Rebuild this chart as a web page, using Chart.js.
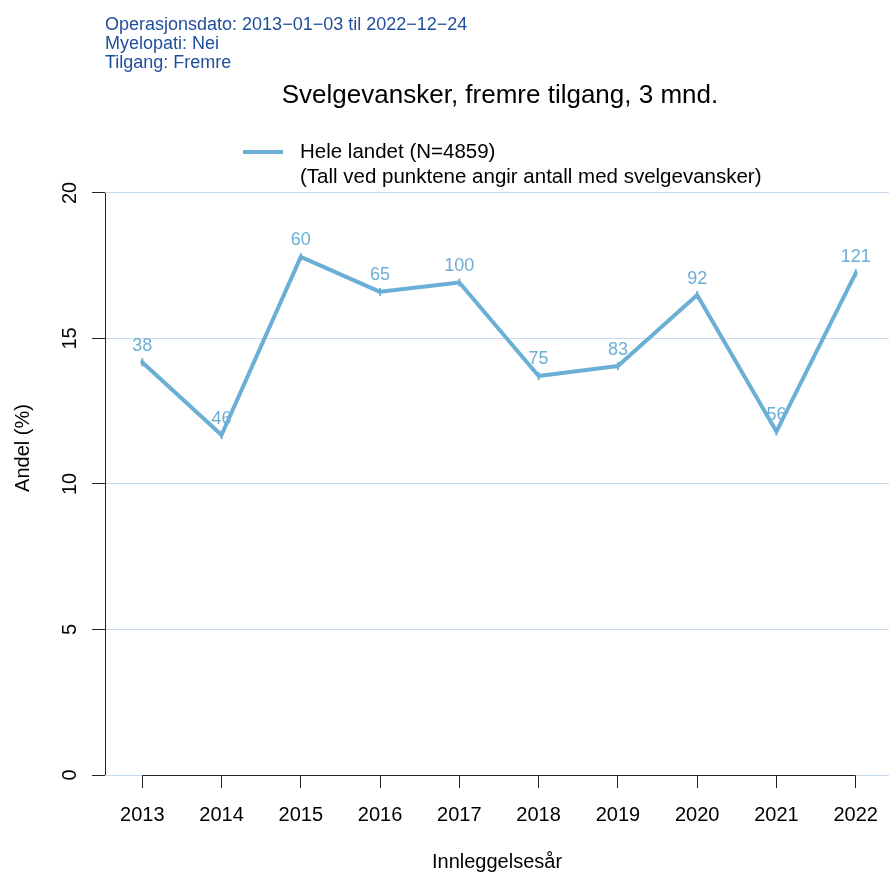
<!DOCTYPE html>
<html>
<head>
<meta charset="utf-8">
<script src="https://cdn.jsdelivr.net/npm/chart.js@4/dist/chart.umd.min.js"></script>
<style>
  html, body { margin: 0; padding: 0; background: #ffffff; }
  #wrap { width: 889px; height: 876px; }
</style>
</head>
<body>
<div id="wrap"><canvas id="c" width="889" height="876"></canvas></div>
<script>
// Share with swallowing difficulties 3 months after anterior-approach surgery, per admission year
const years = [2013, 2014, 2015, 2016, 2017, 2018, 2019, 2020, 2021, 2022];
const andel = [14.18, 11.68, 17.80, 16.60, 16.92, 13.71, 14.05, 16.49, 11.80, 17.24];
const antall = [38, 46, 60, 65, 100, 75, 83, 92, 56, 121];
const yTicks = [0, 5, 10, 15, 20];
const infoLines = [
  'Operasjonsdato: 2013\u221201\u221203 til 2022\u221212\u221224',
  'Myelopati: Nei',
  'Tilgang: Fremre'
];
const mainTitle = 'Svelgevansker, fremre tilgang, 3 mnd.';
const legendLines = ['Hele landet (N=4859)', '(Tall ved punktene angir antall med svelgevansker)'];
const xTitle = 'Innleggelsesår';
const yTitle = 'Andel (%)';

const FONT = '"Liberation Sans", Arial, Helvetica, sans-serif';
const LINE_COL = '#6baed6';
const GRID_COL = '#c6dbef';
const AXIS_COL = '#222222';
const INFO_COL = '#1f4e9c';

const points = years.map((y, i) => ({ x: y, y: andel[i] }));

const decorations = {
  id: 'decorations',
  afterDraw(chart) {
    const ctx = chart.ctx;
    const xs = chart.scales.x;
    const ys = chart.scales.y;
    const area = chart.chartArea;
    ctx.save();

    // axis lines between the outermost ticks
    ctx.strokeStyle = AXIS_COL;
    ctx.lineWidth = 1;
    ctx.beginPath();
    const xb = Math.round(area.bottom) + 0.5;
    ctx.moveTo(xs.getPixelForValue(years[0]), xb);
    ctx.lineTo(xs.getPixelForValue(years[years.length - 1]), xb);
    const yl = Math.round(area.left) + 0.5;
    ctx.moveTo(yl, ys.getPixelForValue(yTicks[0]));
    ctx.lineTo(yl, ys.getPixelForValue(yTicks[yTicks.length - 1]));
    ctx.stroke();

    // x tick labels
    ctx.fillStyle = '#000000';
    ctx.font = '20px ' + FONT;
    ctx.textAlign = 'center';
    ctx.textBaseline = 'alphabetic';
    years.forEach(v => ctx.fillText(String(v), xs.getPixelForValue(v), 821));

    // y tick labels, written along the axis
    yTicks.forEach(v => {
      ctx.save();
      ctx.translate(76, ys.getPixelForValue(v));
      ctx.rotate(-Math.PI / 2);
      ctx.fillText(String(v), 0, 0);
      ctx.restore();
    });

    // axis titles
    ctx.fillText(xTitle, (area.left + area.right) / 2, 868);
    ctx.save();
    ctx.translate(29, (area.top + area.bottom) / 2);
    ctx.rotate(-Math.PI / 2);
    ctx.fillText(yTitle, 0, 0);
    ctx.restore();

    // main title
    ctx.font = '26px ' + FONT;
    ctx.fillText(mainTitle, 500, 103);

    // selection info in the top-left corner
    ctx.fillStyle = INFO_COL;
    ctx.font = '18px ' + FONT;
    ctx.textAlign = 'left';
    infoLines.forEach((t, i) => ctx.fillText(t, 105, 30 + i * 19.2));

    // legend
    ctx.strokeStyle = LINE_COL;
    ctx.lineWidth = 4;
    ctx.lineCap = 'butt';
    ctx.beginPath();
    ctx.moveTo(243, 152);
    ctx.lineTo(283, 152);
    ctx.stroke();
    ctx.fillStyle = '#000000';
    ctx.font = '20.5px ' + FONT;
    ctx.textBaseline = 'middle';
    ctx.fillText(legendLines[0], 300, 152);
    ctx.fillText(legendLines[1], 300, 177);

    // counts above each point
    const meta = chart.getDatasetMeta(0);
    ctx.fillStyle = LINE_COL;
    ctx.font = '18px ' + FONT;
    ctx.textAlign = 'center';
    ctx.textBaseline = 'alphabetic';
    meta.data.forEach((pt, i) => {
      ctx.fillText(String(antall[i]), pt.x, pt.y - 11.5);
    });

    ctx.restore();
  }
};

new Chart(document.getElementById('c'), {
  type: 'line',
  data: {
    datasets: [{
      data: points,
      borderColor: LINE_COL,
      backgroundColor: LINE_COL,
      borderWidth: 4,
      borderJoinStyle: 'round',
      borderCapStyle: 'round',
      tension: 0,
      pointStyle: 'line',
      rotation: 90,
      pointRadius: 4,
      pointBorderWidth: 2,
      pointBorderColor: LINE_COL,
      pointHoverRadius: 4
    }]
  },
  options: {
    responsive: false,
    devicePixelRatio: 1,
    animation: false,
    events: [],
    layout: { autoPadding: false, padding: { top: 121, left: 0, right: 0, bottom: 0 } },
    plugins: {
      legend: { display: false },
      title: { display: false },
      tooltip: { enabled: false }
    },
    scales: {
      x: {
        type: 'linear',
        position: 'bottom',
        min: 2012.53,
        max: 2022.42,
        afterBuildTicks: s => { s.ticks = years.map(v => ({ value: v })); },
        afterFit: s => { s.height = 101; },
        grid: { drawOnChartArea: false, tickLength: 13, color: AXIS_COL, tickColor: AXIS_COL, lineWidth: 1 },
        border: { display: false },
        ticks: { display: false }
      },
      y: {
        type: 'linear',
        position: 'left',
        min: 0,
        max: 22.47,
        afterBuildTicks: s => { s.ticks = yTicks.map(v => ({ value: v })); },
        afterFit: s => { s.width = 105; },
        grid: { color: GRID_COL, tickColor: AXIS_COL, tickLength: 13, lineWidth: 1 },
        border: { display: false },
        ticks: { display: false }
      }
    }
  },
  plugins: [decorations]
});
</script>
</body>
</html>
